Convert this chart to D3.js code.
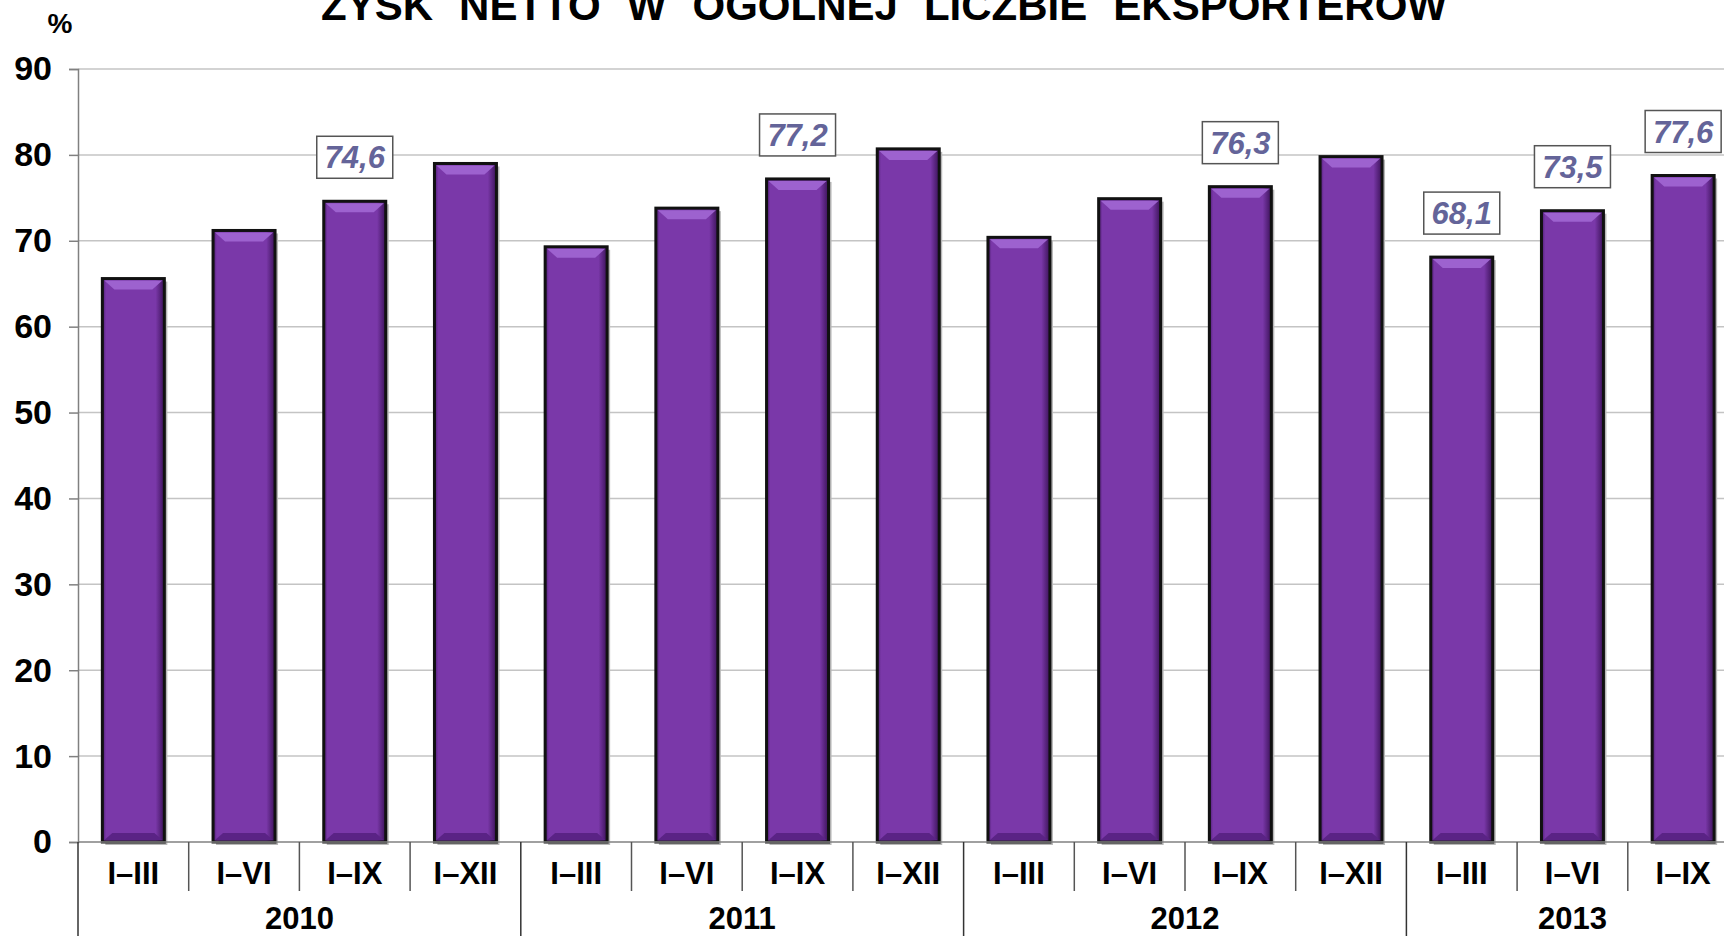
<!DOCTYPE html>
<html>
<head>
<meta charset="utf-8">
<script src="https://cdn.jsdelivr.net/npm/d3@7"></script>
<style>
  body { margin: 0; background: #fff; }
  svg { display: block; font-family: "Liberation Sans", Arial, sans-serif; }
</style>
</head>
<body>
<svg id="chart"></svg>
<script>
const periods = ["I–III", "I–VI", "I–IX", "I–XII",
                 "I–III", "I–VI", "I–IX", "I–XII",
                 "I–III", "I–VI", "I–IX", "I–XII",
                 "I–III", "I–VI", "I–IX"];
const years = ["2010", "2011", "2012", "2013"];
const yearOf = [0,0,0,0, 1,1,1,1, 2,2,2,2, 3,3,3];
const values = [65.6, 71.2, 74.6, 79.0,
                69.3, 73.8, 77.2, 80.7,
                70.4, 74.9, 76.3, 79.8,
                68.1, 73.5, 77.6];
// which bars carry a boxed value label
const labelled = [2, 6, 10, 12, 13, 14];
const yTicks = [0, 10, 20, 30, 40, 50, 60, 70, 80, 90];

const width = 1724, height = 936;
const margin = {top: 69, left: 78, bottom: 94};
const step = 110.7;

const svg = d3.select("#chart").attr("width", width).attr("height", height);

const x = d3.scaleBand()
    .domain(d3.range(values.length))
    .range([margin.left, margin.left + step * values.length])
    .paddingInner(0.44)
    .paddingOuter(0.22);

const y = d3.scaleLinear()
    .domain([0, 90])
    .range([height - margin.bottom, margin.top]);

const defs = svg.append("defs");
const side = defs.append("linearGradient").attr("id", "side");
side.append("stop").attr("offset", "0%").attr("stop-color", "#4a1c6e");
side.append("stop").attr("offset", "6%").attr("stop-color", "#7a38a9");
side.append("stop").attr("offset", "86%").attr("stop-color", "#7a38a9");
side.append("stop").attr("offset", "100%").attr("stop-color", "#3b1258");

// gridlines
svg.append("g")
    .selectAll("line")
    .data(yTicks.filter(d => d > 0))
    .join("line")
    .attr("x1", margin.left).attr("x2", width)
    .attr("y1", d => y(d)).attr("y2", d => y(d))
    .attr("stroke", "#c4c4c4").attr("stroke-width", 1.5);

// y axis
const yAxis = svg.append("g")
    .attr("transform", `translate(${margin.left},0)`)
    .call(d3.axisLeft(y).tickValues(yTicks).tickSize(9).tickPadding(17));
yAxis.select(".domain").attr("stroke", "#808080").attr("stroke-width", 1.5);
yAxis.selectAll(".tick line").attr("stroke", "#808080").attr("stroke-width", 1.5);
yAxis.selectAll(".tick text")
    .attr("font-size", 34).attr("font-weight", "bold").attr("fill", "#000")
    .attr("font-family", "Liberation Sans, Arial, sans-serif");

// bars with bevel
const bars = svg.append("g").selectAll("g")
    .data(values)
    .join("g")
    .attr("transform", (d, i) => `translate(${x(i)},${y(d)})`);

bars.append("rect")
    .attr("x", 3).attr("y", 3)
    .attr("width", x.bandwidth()).attr("height", d => y(0) - y(d))
    .attr("fill", "#b8b8b8");

bars.append("rect")
    .attr("width", x.bandwidth()).attr("height", d => y(0) - y(d))
    .attr("fill", "url(#side)")
    .attr("stroke", "#111").attr("stroke-width", 3);

const bw = x.bandwidth();
bars.append("path")
    .attr("d", `M2,2 H${bw - 2} L${bw - 12},11 H12 Z`)
    .attr("fill", "#9d62cf");
bars.append("path")
    .attr("d", d => {
        const h = y(0) - y(d);
        return `M2,${h - 2} H${bw - 2} L${bw - 10},${h - 9} H10 Z`;
    })
    .attr("fill", "#5a2385");

// x axis baseline
svg.append("line")
    .attr("x1", margin.left).attr("x2", width)
    .attr("y1", y(0)).attr("y2", y(0))
    .attr("stroke", "#808080").attr("stroke-width", 1.5);

// category separators
const sepData = d3.range(values.length + 1);
svg.append("g").selectAll("line")
    .data(sepData)
    .join("line")
    .attr("x1", i => margin.left + i * step)
    .attr("x2", i => margin.left + i * step)
    .attr("y1", y(0))
    .attr("y2", i => (i % 4 === 0) ? height : y(0) + 49)
    .attr("stroke", i => (i % 4 === 0) ? "#333" : "#555")
    .attr("stroke-width", 1.5);

// period labels
svg.append("g").selectAll("text")
    .data(periods)
    .join("text")
    .attr("x", (d, i) => x(i) + bw / 2)
    .attr("y", y(0) + 42)
    .attr("text-anchor", "middle")
    .attr("font-size", 31).attr("font-weight", "bold")
    .text(d => d);

// year labels
svg.append("g").selectAll("text")
    .data(years)
    .join("text")
    .attr("x", (d, k) => {
        const idx = yearOf.map((v, i) => v === k ? i : -1).filter(i => i >= 0);
        return (x(idx[0]) + x(idx[idx.length - 1]) + bw) / 2;
    })
    .attr("y", y(0) + 87)
    .attr("text-anchor", "middle")
    .attr("font-size", 31).attr("font-weight", "bold")
    .text(d => d);

// value labels in boxes
const lab = svg.append("g").selectAll("g")
    .data(labelled)
    .join("g")
    .attr("transform", i => `translate(${x(i) + bw / 2},${y(values[i]) - 44})`);

lab.append("rect")
    .attr("x", -38).attr("y", -21)
    .attr("width", 76).attr("height", 42)
    .attr("fill", "#fff").attr("stroke", "#555").attr("stroke-width", 1.5);
lab.append("text")
    .attr("text-anchor", "middle")
    .attr("dy", "0.36em")
    .attr("font-size", 31).attr("font-weight", "bold").attr("font-style", "italic")
    .attr("fill", "#646499")
    .text(i => String(values[i]).replace(".", ","));

// title: wider gaps between words than normal
const title = svg.append("text")
    .attr("x", 884).attr("y", 20)
    .attr("text-anchor", "middle")
    .attr("font-size", 42).attr("font-weight", "bold")
    .text("ZYSK NETTO W OGÓLNEJ LICZBIE EKSPORTERÓW");
const natural = title.node().getComputedTextLength();
const gaps = 5;
title.attr("word-spacing", Math.max(0, (1126 - natural) / gaps));

svg.append("text")
    .attr("x", 60).attr("y", 33)
    .attr("text-anchor", "middle")
    .attr("font-size", 28).attr("font-weight", "bold")
    .text("%");
</script>
</body>
</html>
